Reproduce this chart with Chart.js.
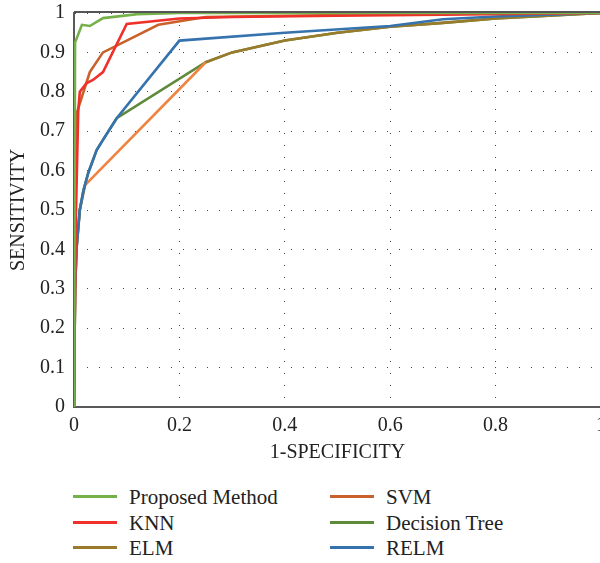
<!DOCTYPE html>
<html>
<head>
<meta charset="utf-8">
<script src="https://cdn.jsdelivr.net/npm/chart.js@4/dist/chart.umd.min.js"></script>
<style>
  html, body { margin: 0; padding: 0; width: 600px; height: 563px; overflow: hidden; background: #fff; }
  #wrap { position: relative; width: 600px; height: 563px; overflow: hidden; }
  #roc { position: absolute; left: 0; top: 0; }
  .item { position: absolute; height: 26px; font: 21px "Liberation Serif", "DejaVu Serif", serif; color: #222; }
  .item span.sw { position: absolute; left: 0; top: 11px; width: 44px; height: 3px; }
  .item span.tx { position: absolute; left: 56px; top: 0; white-space: nowrap; line-height: 26px; }
</style>
</head>
<body>
<div id="wrap">
  <canvas id="roc" width="610" height="475"></canvas>
  <div id="legend"></div>
</div>
<script>
// ROC curves, x = 1-specificity, y = sensitivity
const proposedX = [0, 0.002, 0.015, 0.03, 0.055, 0.12, 0.2, 0.4, 0.6, 0.8, 1];
const proposedY = [0, 0.925, 0.97, 0.967, 0.987, 0.997, 1, 1, 1, 1, 1];

const knnX = [0, 0.003, 0.008, 0.011, 0.024, 0.036, 0.055, 0.1, 0.2, 0.3, 0.5, 0.7, 1];
const knnY = [0, 0.45, 0.75, 0.8, 0.822, 0.83, 0.85, 0.972, 0.986, 0.99, 0.993, 0.996, 1];

const elmX = [0, 0.002, 0.005, 0.011, 0.021, 0.25, 0.3, 0.4, 0.5, 0.6, 0.7, 0.8, 0.9, 1];
const elmY = [0, 0.3, 0.406, 0.5, 0.563, 0.875, 0.9, 0.93, 0.95, 0.965, 0.975, 0.986, 0.993, 1];

const svmX = [0, 0.003, 0.005, 0.03, 0.055, 0.1, 0.16, 0.25, 0.5, 0.75, 1];
const svmY = [0, 0.5, 0.745, 0.85, 0.9, 0.93, 0.97, 0.99, 0.995, 0.998, 1];

const treeX = [0, 0.002, 0.005, 0.011, 0.018, 0.027, 0.043, 0.055, 0.081, 0.25, 0.3, 0.4, 0.5, 0.6, 0.7, 0.8, 0.9, 1];
const treeY = [0, 0.3, 0.406, 0.5, 0.55, 0.594, 0.652, 0.678, 0.733, 0.875, 0.9, 0.93, 0.95, 0.965, 0.975, 0.986, 0.993, 1];

const relmX = [0, 0.002, 0.005, 0.011, 0.018, 0.027, 0.043, 0.055, 0.081, 0.2, 0.4, 0.6, 0.7, 0.8, 1];
const relmY = [0, 0.3, 0.406, 0.5, 0.55, 0.594, 0.652, 0.678, 0.733, 0.93, 0.95, 0.967, 0.984, 0.991, 1];

const names = ['Proposed Method', 'KNN', 'ELM', 'SVM', 'Decision Tree', 'RELM'];
const colors = ['#76b04a', '#f0302a', '#9a7b2c', '#c8622a', '#5f8a3a', '#3572ae'];
// drawing weight: higher is drawn first (underneath)
const drawOrder = [0, 1, 4, 2, 5, 3];
const elmMidColor = '#ef8340';

function pts(xs, ys) {
  return xs.map((x, i) => ({x: x, y: ys[i]}));
}

const series = [
  pts(proposedX, proposedY),
  pts(knnX, knnY),
  pts(elmX, elmY),
  pts(svmX, svmY),
  pts(treeX, treeY),
  pts(relmX, relmY)
];

const serif = '"Liberation Serif", "DejaVu Serif", serif';
const fmt = v => String(Number(v.toFixed(2)));

const topBorder = {
  id: 'topBorder',
  afterDatasetsDraw(chart) {
    const a = chart.chartArea, ctx = chart.ctx;
    ctx.save();
    ctx.strokeStyle = '#555';
    ctx.lineWidth = 2;
    ctx.beginPath();
    ctx.moveTo(a.left, a.top - 1);
    ctx.lineTo(a.right, a.top - 1);
    ctx.stroke();
    ctx.restore();
  }
};

const datasets = series.map((d, i) => {
  const ds = {
    label: names[i],
    data: d,
    order: drawOrder[i],
    borderColor: colors[i],
    backgroundColor: colors[i],
    borderWidth: 2.6,
    pointRadius: 0,
    tension: 0,
    fill: false
  };
  if (names[i] === 'ELM') {
    ds.segment = {
      borderColor: ctx => (ctx.p0.parsed.x >= 0.02 && ctx.p1.parsed.x <= 0.25) ? elmMidColor : undefined
    };
  }
  return ds;
});

new Chart(document.getElementById('roc'), {
  type: 'line',
  data: { datasets },
  options: {
    responsive: false,
    animation: false,
    layout: { padding: { top: 13, right: 9, left: 0, bottom: 0 } },
    plugins: { legend: { display: false }, tooltip: { enabled: false } },
    scales: {
      x: {
        type: 'linear',
        min: 0, max: 1,
        afterFit: s => { s.height = 68; s.paddingLeft = 0; s.paddingRight = 0; },
        ticks: { stepSize: 0.2, padding: 7, color: '#222', font: { family: serif, size: 20 }, maxRotation: 0, autoSkip: false, callback: fmt },
        grid: { drawTicks: false, color: '#444', lineWidth: 1 },
        border: { color: '#5a5a5a', width: 2, dash: [1, 11] },
        title: { display: true, text: '1-SPECIFICITY', color: '#222', font: { family: serif, size: 20 }, padding: { top: 0, bottom: 10 } }
      },
      y: {
        min: 0, max: 1,
        afterFit: s => { s.width = 74; s.paddingTop = 0; s.paddingBottom = 0; },
        ticks: { stepSize: 0.1, padding: 9, color: '#222', font: { family: serif, size: 20 }, callback: fmt },
        grid: { drawTicks: false, color: '#444', lineWidth: 1 },
        border: { color: '#5a5a5a', width: 2, dash: [1, 11] },
        title: { display: true, text: 'SENSITIVITY', color: '#222', font: { family: serif, size: 20 }, padding: { top: 7, bottom: 0 } }
      }
    }
  },
  plugins: [topBorder]
});

// two-column legend, column-major like the original
const legend = document.getElementById('legend');
names.forEach((n, i) => {
  const col = Math.floor(i / 3), row = i % 3;
  const el = document.createElement('div');
  el.className = 'item';
  el.style.left = (73 + col * 257) + 'px';
  el.style.top = (484 + row * 25.5) + 'px';
  el.innerHTML = '<span class="sw" style="background:' + colors[i] + '"></span><span class="tx">' + n + '</span>';
  legend.appendChild(el);
});
</script>
</body>
</html>
